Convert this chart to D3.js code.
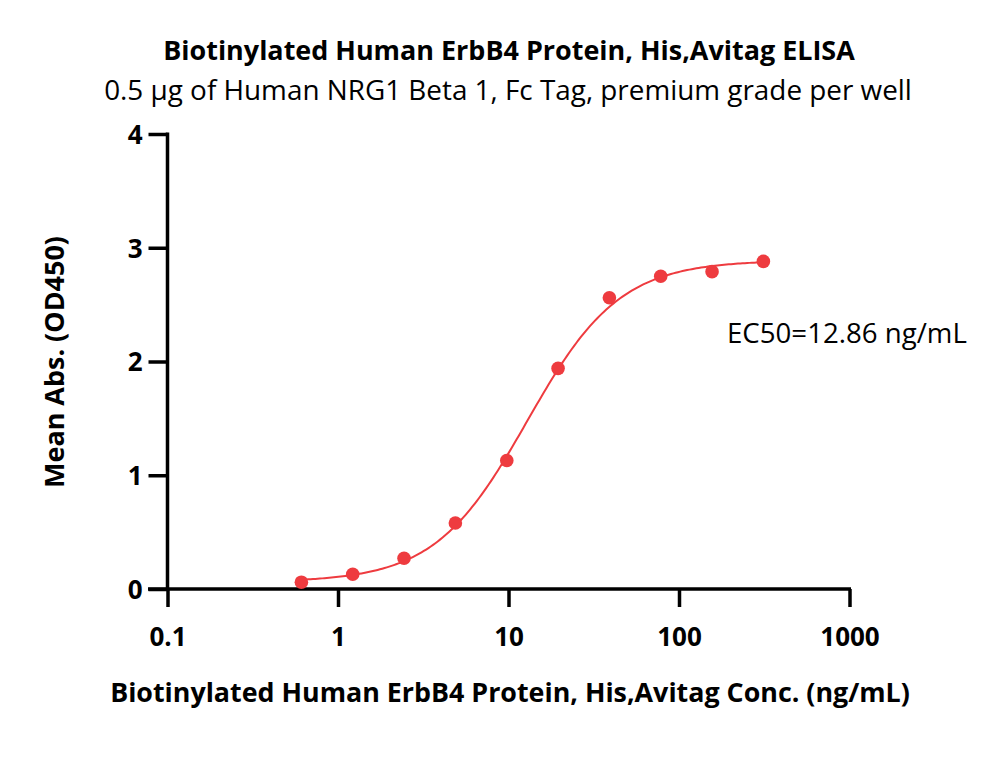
<!DOCTYPE html>
<html><head><meta charset="utf-8">
<script src="https://cdn.jsdelivr.net/npm/d3@7"></script>
<style>body{margin:0;background:#fff}svg{display:block}</style>
</head><body>
<svg id="c" width="1000" height="783"></svg>
<script>
const concentrations = [0.61, 1.22, 2.44, 4.88, 9.77, 19.53, 39.06, 78.13, 156.25, 312.5];
const absorbance = [0.06, 0.13, 0.27, 0.58, 1.13, 1.94, 2.56, 2.75, 2.79, 2.88];
const xTicks = [0.1, 1, 10, 100, 1000];
const xTickLabels = ["0.1", "1", "10", "100", "1000"];
const yTicks = [0, 1, 2, 3, 4];
// 4PL fit parameters (from the reference's fit)
const fitBottom = 0.06, fitTop = 2.89, fitEC50 = 12.86, fitHill = 1.6;

const titleText = "Biotinylated Human ErbB4 Protein, His,Avitag ELISA";
const subtitleText = "0.5 \u03bcg of Human NRG1 Beta 1, Fc Tag, premium grade per well";
const xLabelText = "Biotinylated Human ErbB4 Protein, His,Avitag Conc. (ng/mL)";
const yLabelText = "Mean Abs. (OD450)";
const ec50Text = "EC50=12.86 ng/mL";

const svg = d3.select("#c");
const font = "'Open Sans', 'Noto Sans', sans-serif";
const red = "#ee3b3f";

const x = d3.scaleLog().domain([0.1, 1000]).range([167.5, 849.5]);
const y = d3.scaleLinear().domain([0, 4]).range([589, 134]);

function fitText(sel, target) {
  const w = sel.node().getComputedTextLength();
  const fs = parseFloat(sel.attr("font-size"));
  sel.attr("font-size", fs * target / w);
}

// axes
const xAxis = d3.axisBottom(x).tickValues(xTicks).tickFormat((d, i) => xTickLabels[i]).tickSize(18).tickSizeOuter(0);
const gx = svg.append("g").attr("transform", `translate(0,${y(0)})`).call(xAxis);
gx.select(".domain").attr("stroke", "#000").attr("stroke-width", 3.5).attr("d", `M${148},0H${x(1000)+1.5}`);
gx.selectAll(".tick line").attr("stroke", "#000").attr("stroke-width", 3.5);
gx.selectAll(".tick text").attr("font-family", font).attr("font-weight", "bold").attr("font-size", 26).attr("fill", "#000").attr("dy", 0).attr("y", 57);

const yAxis = d3.axisLeft(y).tickValues(yTicks).tickFormat(d3.format("d")).tickSize(19).tickSizeOuter(0);
const gy = svg.append("g").attr("transform", `translate(${x(0.1)},0)`).call(yAxis);
gy.select(".domain").attr("stroke", "#000").attr("stroke-width", 3.5).attr("d", `M0,${y(4)-1.5}V${y(0)}`);
gy.selectAll(".tick line").attr("stroke", "#000").attr("stroke-width", 3.5);
gy.selectAll(".tick text").attr("font-family", font).attr("font-weight", "bold").attr("font-size", 26).attr("fill", "#000").attr("x", -25).attr("dy", "0.36em");

// fitted curve
const fit = c => fitBottom + (fitTop - fitBottom) / (1 + Math.pow(fitEC50 / c, fitHill));
const lo = Math.log10(concentrations[0]), hi = Math.log10(concentrations[concentrations.length - 1]);
const curveX = d3.range(0, 201).map(i => Math.pow(10, lo + (hi - lo) * i / 200));
svg.append("path")
  .attr("d", d3.line().x(c => x(c)).y(c => y(fit(c))).curve(d3.curveLinear)(curveX))
  .attr("fill", "none").attr("stroke", red).attr("stroke-width", 2);

// points
svg.append("g").selectAll("circle").data(concentrations).join("circle")
  .attr("cx", d => x(d)).attr("cy", (d, i) => y(absorbance[i])).attr("r", 6.8).attr("fill", red);

// texts
const t = svg.append("text").attr("x", 509).attr("y", 60).attr("text-anchor", "middle")
  .attr("font-family", font).attr("font-weight", "bold").attr("font-size", 20).text(titleText);
fitText(t, 692);
const st = svg.append("text").attr("x", 508).attr("y", 100).attr("text-anchor", "middle")
  .attr("font-family", font).attr("font-size", 20).text(subtitleText);
fitText(st, 808);
const xl = svg.append("text").attr("x", 510).attr("y", 702).attr("text-anchor", "middle")
  .attr("font-family", font).attr("font-weight", "bold").attr("font-size", 20).text(xLabelText);
fitText(xl, 800);
const yl = svg.append("text").attr("transform", "translate(64,362) rotate(-90)").attr("text-anchor", "middle")
  .attr("font-family", font).attr("font-weight", "bold").attr("font-size", 20).text(yLabelText);
fitText(yl, 252);
const ec = svg.append("text").attr("x", 727).attr("y", 343)
  .attr("font-family", font).attr("font-size", 20).text(ec50Text);
fitText(ec, 240);
</script>
</body></html>
